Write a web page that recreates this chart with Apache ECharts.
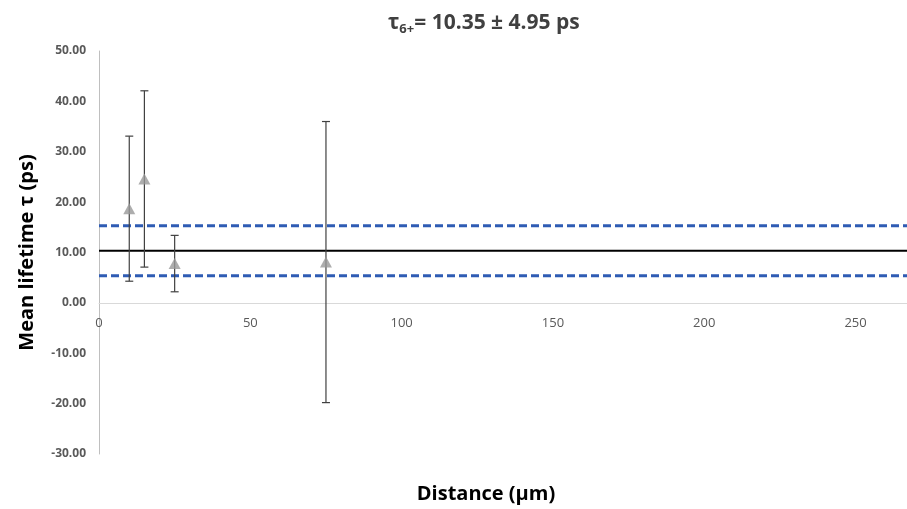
<!DOCTYPE html>
<html><head><meta charset="utf-8">
<script src="https://cdn.jsdelivr.net/npm/echarts@6/dist/echarts.min.js"></script>
<style>html,body{margin:0;padding:0;background:#fff}#c{width:907px;height:509px}</style>
</head><body><div id="c"></div>
<script>
const distances = [10, 15, 25, 75];
const lifetimes = [18.7, 24.6, 7.8, 8.1];
const errors = [14.4, 17.5, 5.6, 27.9];
const meanTau = 10.35;
const sigmaTau = 4.95;
const xMin = 0, xMax = 267;
const yMin = -30, yMax = 50;

const points = distances.map((d, i) => [d, lifetimes[i]]);
const bars = distances.map((d, i) => [d, lifetimes[i] - errors[i], lifetimes[i] + errors[i]]);
const lineData = v => [[xMin, v], [xMax, v]];

const gridTop = 51, gridBottom = 55, H = 509;
const plotH = H - gridTop - gridBottom;
const zeroOffset = -plotH * (0 - yMin) / (yMax - yMin);

const chart = echarts.init(document.getElementById('c'));
chart.setOption({
  animation: false,
  title: {
    text: '{t|τ}{s|6+}{t|= 10.35 ± 4.95 ps}',
    left: 383, top: 6,
    textStyle: {
      rich: {
        t: {fontFamily: 'Open Sans', fontWeight: 'bold', fontSize: 21, color: '#404040'},
        s: {fontFamily: 'Open Sans', fontWeight: 'bold', fontSize: 13, color: '#404040', padding: [12, 0, 0, 0]}
      }
    }
  },
  graphic: [
    {type: 'text', style: {text: 'Distance (µm)', x: 486, y: 484, textAlign: 'center',
      font: 'bold 20px "Open Sans"', fill: '#000'}}
  ],
  grid: {left: 99, right: 0, top: gridTop, bottom: gridBottom},
  xAxis: {
    type: 'value', min: xMin, max: xMax, interval: 50,
    offset: zeroOffset,
    axisLine: {onZero: false, lineStyle: {color: '#d9d9d9', width: 1}},
    axisTick: {show: false}, splitLine: {show: false},
    axisLabel: {color: '#595959', fontFamily: 'Liberation Sans Narrow, Open Sans', fontSize: 13, margin: 14,
      showMaxLabel: false}
  },
  yAxis: {
    type: 'value', min: yMin, max: yMax, interval: 10,
    name: 'Mean lifetime τ (ps)', nameLocation: 'middle', nameGap: 62,
    nameTextStyle: {fontFamily: 'Open Sans', fontWeight: 'bold', fontSize: 20, color: '#000'},
    axisLine: {show: true, onZero: false, lineStyle: {color: '#bfbfbf', width: 1}},
    axisTick: {show: false}, splitLine: {show: false},
    axisLabel: {color: '#595959', fontFamily: 'Open Sans', fontWeight: 'bold', fontSize: 12, margin: 13,
      formatter: v => v.toFixed(2)}
  },
  series: [
    {type: 'line', data: lineData(meanTau), symbol: 'none', lineStyle: {color: '#000', width: 2}, z: 2},
    {type: 'line', data: lineData(meanTau + sigmaTau), symbol: 'none', lineStyle: {color: '#2f5cb4', width: 3, type: [8, 4]}, z: 2},
    {type: 'line', data: lineData(meanTau - sigmaTau), symbol: 'none', lineStyle: {color: '#2f5cb4', width: 3, type: [8, 4]}, z: 2},
    {
      type: 'custom', data: bars, z: 3,
      renderItem: (params, api) => {
        const x = api.value(0);
        const lo = api.coord([x, api.value(1)]);
        const hi = api.coord([x, api.value(2)]);
        const c = 4;
        const st = {stroke: '#404040', lineWidth: 1.2};
        return {type: 'group', children: [
          {type: 'line', shape: {x1: lo[0], y1: lo[1], x2: hi[0], y2: hi[1]}, style: st},
          {type: 'line', shape: {x1: lo[0] - c, y1: lo[1], x2: lo[0] + c, y2: lo[1]}, style: st},
          {type: 'line', shape: {x1: hi[0] - c, y1: hi[1], x2: hi[0] + c, y2: hi[1]}, style: st}
        ]};
      }
    },
    {type: 'scatter', data: points, symbol: 'triangle', symbolSize: [12, 11], itemStyle: {color: '#999999'}, z: 4}
  ]
});
</script></body></html>
